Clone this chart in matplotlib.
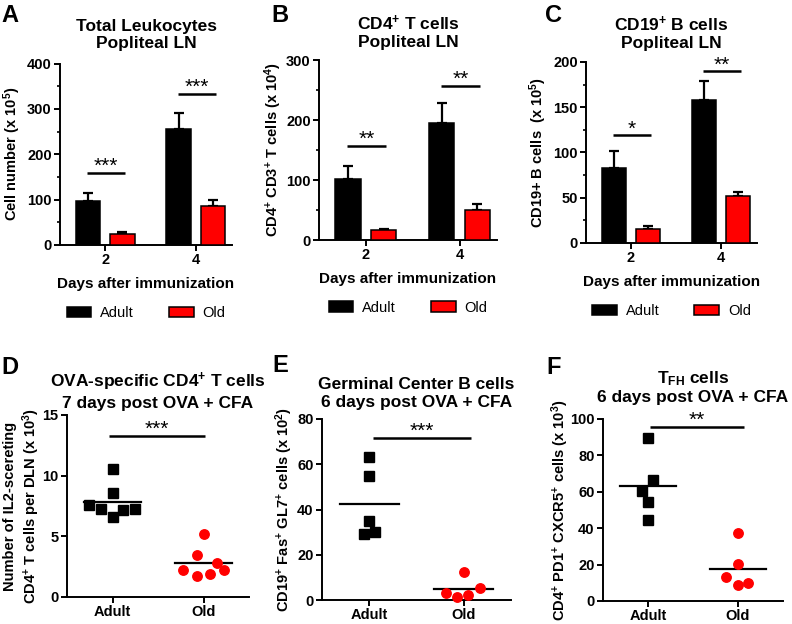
import matplotlib
matplotlib.use("Agg")
import matplotlib.pyplot as plt
import numpy as np
from matplotlib.patches import Patch
from matplotlib.ticker import AutoMinorLocator

plt.rcParams['font.family'] = ['Liberation Sans', 'DejaVu Sans']
plt.rcParams['mathtext.fontset'] = 'custom'
plt.rcParams['mathtext.rm'] = 'Liberation Sans'
plt.rcParams['mathtext.bf'] = 'Liberation Sans:bold'
plt.rcParams['mathtext.default'] = 'bf'

# ---- data: top row (bars, mean + upper SEM) ----
days = ['2', '4']
groups = ['Adult', 'Old']

leuko_adult = [97, 256]
leuko_adult_err = [17, 35]
leuko_old = [24, 86]
leuko_old_err = [4, 13]
leuko_sig = ['***', '***']
leuko_sig_y = [159, 333]

cd4_adult = [102, 195]
cd4_adult_err = [22, 33]
cd4_old = [16, 50]
cd4_old_err = [2, 10]
cd4_sig = ['**', '**']
cd4_sig_y = [157, 257]

cd19_adult = [83, 158]
cd19_adult_err = [19, 21]
cd19_old = [16, 52]
cd19_old_err = [3, 4]
cd19_sig = ['*', '**']
cd19_sig_y = [119, 190]

# ---- data: bottom row (individual mice) ----
il2_adult = [10.55, 8.6, 7.58, 7.24, 6.6, 7.16, 7.27]
il2_old = [5.23, 3.44, 2.81, 2.26, 2.26, 1.71, 1.93]
gc_adult = [63.0, 54.9, 34.9, 29.3, 29.9]
gc_old = [12.5, 5.2, 2.9, 1.5, 2.2]
tfh_adult = [89.4, 66.5, 60.6, 54.6, 44.5]
tfh_old = [37.5, 20.1, 13.0, 8.6, 9.7]

# horizontal spread of the dots
il2_adult_dx = [0, 0, -0.26, -0.13, 0, 0.12, 0.25]
il2_old_dx = [0, -0.07, 0.15, 0.23, -0.23, -0.07, 0.07]
gc_adult_dx = [0, 0, 0, -0.06, 0.06]
gc_old_dx = [0, 0.17, -0.19, -0.07, 0.05]
tfh_adult_dx = [0, 0.055, -0.066, 0, 0]
tfh_old_dx = [0, 0, -0.13, 0, 0.11]

W, H = 792, 624
fig = plt.figure(figsize=(W / 100, H / 100), dpi=100)


def px_axes(left, top, right, bottom):
    return fig.add_axes([left / W, 1 - bottom / H, (right - left) / W, (bottom - top) / H])


def style(ax):
    for s in ['top', 'right']:
        ax.spines[s].set_visible(False)
    for s in ['left', 'bottom']:
        ax.spines[s].set_linewidth(1.4)
    ax.tick_params(axis='both', width=1.4, length=4, labelsize=10.5, pad=2)
    ax.tick_params(axis='y', which='minor', width=1.2, length=2.5)
    for lab in ax.get_xticklabels() + ax.get_yticklabels():
        lab.set_fontweight('bold')


def sig(ax, x0, x1, y, stars):
    ax.plot([x0, x1], [y, y], color='black', lw=1.8, solid_capstyle='butt', clip_on=False)
    ax.annotate(stars, xy=((x0 + x1) / 2, y), xytext=(0, 0.5), textcoords='offset points',
                ha='center', va='baseline', fontsize=15, annotation_clip=False)


def title_at(ax, text, y_px):
    b = ax.get_position()
    fig.text((b.x0 + b.x1) / 2, 1 - y_px / H, text, ha='center', va='center',
             fontsize=12.5, fontweight='bold', linespacing=1.2)


def bar_panel(ax, adult, adult_err, old, old_err, stars, star_y, ymax, ystep,
              title, title_y, ylabel, ylabel_x):
    x = np.arange(len(days))
    off, w = 0.19, 0.27
    ax.bar(x - off, adult, w, color='black', edgecolor='black', lw=1.1, zorder=3)
    ax.bar(x + off, old, w, color='#ff0000', edgecolor='black', lw=1.1, zorder=3)
    ax.errorbar(x - off, adult, yerr=[np.zeros(len(days)), adult_err], fmt='none',
                ecolor='black', elinewidth=1.6, capsize=3.5, capthick=1.6, zorder=2)
    ax.errorbar(x + off, old, yerr=[np.zeros(len(days)), old_err], fmt='none',
                ecolor='black', elinewidth=1.6, capsize=3.5, capthick=1.6, zorder=2)
    for i in range(len(days)):
        sig(ax, x[i] - 0.2, x[i] + 0.22, star_y[i], stars[i])
    ax.set_xlim(-0.5, 1.4)
    ax.set_ylim(0, ymax)
    ax.set_yticks(np.arange(0, ymax + 1, ystep))
    ax.yaxis.set_minor_locator(AutoMinorLocator(2))
    ax.set_xticks(x)
    ax.set_xticklabels(days)
    style(ax)
    title_at(ax, title, title_y)
    ax.set_xlabel('Days after immunization', fontsize=11, fontweight='bold', labelpad=7)
    ax.set_ylabel(ylabel, fontsize=10.5, fontweight='bold')
    ax.yaxis.label.set_va('center')
    ax.yaxis.set_label_coords(ylabel_x, 0.5)
    handles = [Patch(facecolor='black', edgecolor='black', lw=1.1),
               Patch(facecolor='#ff0000', edgecolor='black', lw=1.1)]
    ax.legend(handles, groups, loc='center', bbox_to_anchor=(0.5, -0.375), ncol=2,
              frameon=False, fontsize=10.5, handlelength=1.7, handleheight=0.7,
              columnspacing=2.4, handletextpad=0.6)


def dot_panel(ax, adult, adult_dx, old, old_dx, stars, star_y, sig_x, ymax, ystep,
              title, title_y, ylabel, ylabel_x):
    ax.plot(np.array(adult_dx), adult, 's', color='black', ms=6.5, ls='none', zorder=3,
            clip_on=False)
    ax.plot(1 + np.array(old_dx), old, 'o', color='#ff0000', ms=6.8, ls='none', zorder=3,
            clip_on=False)
    for xc, vals in [(0, adult), (1, old)]:
        m = np.mean(vals)
        ax.plot([xc - 0.31, xc + 0.31], [m, m], color='black', lw=1.6, zorder=2)
    sig(ax, sig_x[0], sig_x[1], star_y, stars)
    ax.set_xlim(-0.5, 1.5)
    ax.set_ylim(0, ymax)
    ax.set_yticks(np.arange(0, ymax + 0.1, ystep))
    ax.set_xticks([0, 1])
    ax.set_xticklabels(groups)
    style(ax)
    title_at(ax, title, title_y)
    ax.set_ylabel(ylabel, fontsize=10.5, fontweight='bold', linespacing=1.2)
    ax.yaxis.label.set_va('center')
    ax.yaxis.set_label_coords(ylabel_x, 0.5)


axA = px_axes(60, 63.5, 232, 245)
bar_panel(axA, leuko_adult, leuko_adult_err, leuko_old, leuko_old_err, leuko_sig, leuko_sig_y,
          400, 100, 'Total Leukocytes\nPopliteal LN', 35, r'Cell number (x 10$^{5}$)', -0.28)

axB = px_axes(319, 60, 497, 240)
bar_panel(axB, cd4_adult, cd4_adult_err, cd4_old, cd4_old_err, cd4_sig, cd4_sig_y,
          300, 100, 'CD4$^{+}$ T cells\nPopliteal LN', 32,
          r'CD4$^{+}$ CD3$^{+}$ T cells (x 10$^{4}$)', -0.26)

axC = px_axes(586, 62, 757, 243)
bar_panel(axC, cd19_adult, cd19_adult_err, cd19_old, cd19_old_err, cd19_sig, cd19_sig_y,
          200, 50, 'CD19$^{+}$ B cells\nPopliteal LN', 33,
          r'CD19+ B cells  (x 10$^{5}$)', -0.28)

axD = px_axes(67, 415, 249, 597)
dot_panel(axD, il2_adult, il2_adult_dx, il2_old, il2_old_dx, '***', 13.3, (-0.04, 1.02),
          15, 5, 'OVA-specific CD4$^{+}$ T cells\n7 days post OVA + CFA', 391,
          'Number of IL2-scereting\nCD4$^{+}$ T cells per DLN (x 10$^{3}$)', -0.245)

axE = px_axes(322, 419, 511, 600)
dot_panel(axE, gc_adult, gc_adult_dx, gc_old, gc_old_dx, '***', 71.7, (0.04, 1.08),
          80, 20, 'Germinal Center B cells\n6 days post OVA + CFA', 393.5,
          r'CD19$^{+}$ Fas$^{+}$ GL7$^{+}$ cells (x 10$^{2}$)', -0.2)

axF = px_axes(603, 419, 783, 601)
dot_panel(axF, tfh_adult, tfh_adult_dx, tfh_old, tfh_old_dx, '**', 95.8, (0.02, 1.07),
          100, 20, 'T$_{FH}$ cells\n6 days post OVA + CFA', 387,
          r'CD4$^{+}$ PD1$^{+}$ CXCR5$^{+}$ cells (x 10$^{3}$)', -0.24)

# panel letters
for letter, (lx, ly) in zip('ABCDEF', [(10, 15), (280, 15), (554, 15),
                                       (10, 367), (280, 365), (554, 367)]):
    fig.text(lx / W, 1 - ly / H, letter, fontsize=17, fontweight='bold',
             ha='center', va='center')

fig.savefig('out.png', dpi=100)
